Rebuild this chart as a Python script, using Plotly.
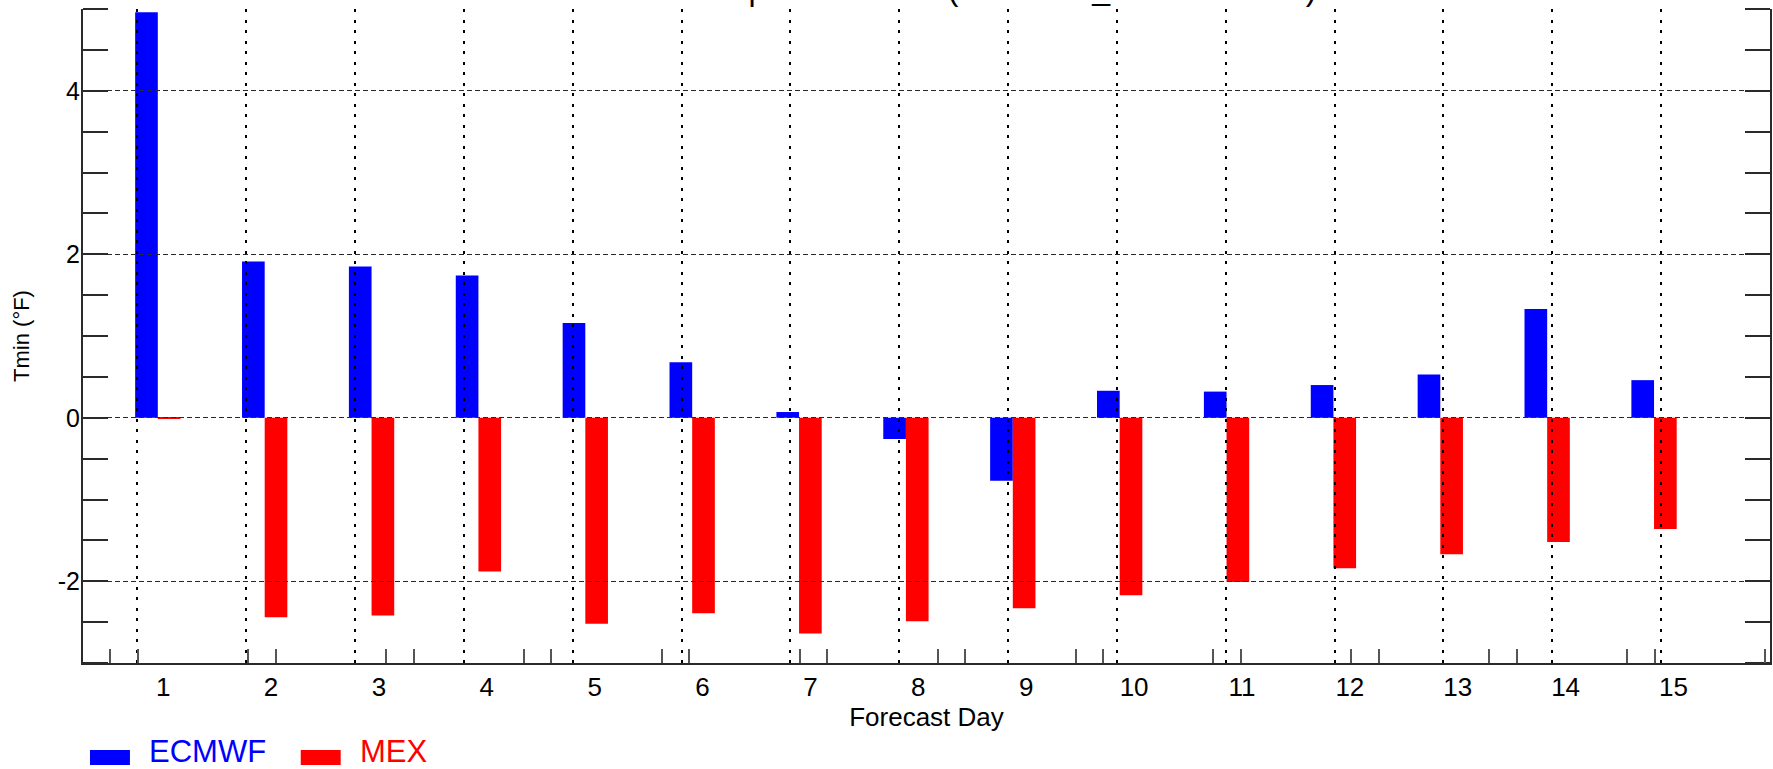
import plotly.graph_objects as go

# ------------------------------------------------------------
# Data (Tmin bias, °F, per forecast day)
# ------------------------------------------------------------
DAYS = list(range(1, 16))
ECMWF = [4.96, 1.91, 1.85, 1.74, 1.16, 0.68, 0.07, -0.26, -0.77, 0.33, 0.32, 0.40, 0.53, 1.33, 0.46]
MEX = [-0.01, -2.44, -2.42, -1.88, -2.52, -2.39, -2.64, -2.49, -2.33, -2.17, -2.01, -1.84, -1.67, -1.52, -1.36]
Y_TICKS = [-2, 0, 2, 4]

TITLE = "Minimum Temperature Bias (STATION_FORECASTS)"
FONT = "Arial, Liberation Sans, sans-serif"

# plot area in pixels
W, H = 1773, 769
L, R, T, B = 83, 1, 9, 106
PW = W - L - R
PH = H - T - B

BAR_W = 0.212
INK = "#2a2a2a"

fig = go.Figure()

# bars on the bottom subplot
fig.add_trace(go.Bar(x=DAYS, y=ECMWF, name="ECMWF", marker_color="#0000FF",
                     marker_line_width=0, width=BAR_W, offset=-BAR_W,
                     xaxis="x", yaxis="y", showlegend=False))
fig.add_trace(go.Bar(x=DAYS, y=MEX, name="MEX", marker_color="#FF0000",
                     marker_line_width=0, width=BAR_W, offset=0,
                     xaxis="x", yaxis="y", showlegend=False))

# empty traces so the grid / tick axes get drawn on top of the bars
for xa in ["x2", "x3", "x4"]:
    fig.add_trace(go.Scatter(x=[], y=[], xaxis=xa, yaxis="y2",
                             showlegend=False, hoverinfo="skip"))

# bottom tick marks (two interleaved series)
tick_px = 138.1
x3_max = PW / tick_px

fig.update_layout(
    width=W, height=H, autosize=False,
    margin=dict(l=L, r=R, t=T, b=B),
    paper_bgcolor="white", plot_bgcolor="rgba(0,0,0,0)",
    barmode="overlay",
    font=dict(family=FONT, color="black"),
    xaxis=dict(domain=[0, 1], range=[0.3, 16.085], anchor="y", visible=False),
    yaxis=dict(domain=[0, 1], range=[-3, 5], anchor="x", visible=False),
    xaxis2=dict(domain=[0, 1], range=[0.5, 16], anchor="y2",
                tick0=1, dtick=1, ticks="", showticklabels=False,
                showgrid=True, gridcolor="black", gridwidth=1.5, griddash="3px,7.5px",
                zeroline=False, showline=False),
    yaxis2=dict(domain=[0, 1], range=[-3, 5], anchor="x2",
                tickvals=Y_TICKS, ticktext=[str(v) for v in Y_TICKS], ticks="",
                tickfont=dict(size=25), ticklabelstandoff=-4,
                showgrid=True, gridcolor=INK, gridwidth=1, griddash="5px,3px",
                zeroline=False, showline=True, linecolor=INK, linewidth=2, mirror="ticks",
                minor=dict(tick0=0, dtick=0.5, ticks="inside", ticklen=25,
                           tickwidth=1.5, tickcolor=INK, showgrid=False),
                title=dict(text="Tmin (°F)", font=dict(size=22), standoff=22)),
    xaxis3=dict(overlaying="x2", anchor="y2", side="bottom", range=[0, x3_max],
                tick0=(110 - L) / tick_px, dtick=1, ticks="inside", ticklen=14,
                tickwidth=1.5, tickcolor="#555", showticklabels=False,
                showgrid=False, zeroline=False,
                showline=True, linecolor=INK, linewidth=2,
                minor=dict(tick0=(137.7 - L) / tick_px, dtick=1, ticks="inside",
                           ticklen=14, tickwidth=1.5, tickcolor="#555", showgrid=False)),
    xaxis4=dict(overlaying="x2", anchor="y2", side="bottom", range=[0.2565, 15.895],
                tickvals=DAYS, ticks="", tickfont=dict(size=26), ticklabelstandoff=6,
                showgrid=False, zeroline=False, showline=False,
                title=dict(text="Forecast Day", font=dict(size=26), standoff=2)),
)

# title: sits mostly above the page, only its descenders show
fig.add_annotation(text=TITLE, xref="paper", yref="paper", x=0.504, y=1,
                   xanchor="center", yanchor="bottom", yshift=0, showarrow=False,
                   font=dict(size=32, family=FONT, color="black"))

# legend drawn as swatches + labels below the axis
def px_x(p):
    return (p - L) / PW

def px_y(p):
    return (H - B - p) / PH

for (x0, x1, tx, name, col) in [(90, 130, 147, "ECMWF", "#0000FF"),
                                (301, 341, 358, "MEX", "#FF0000")]:
    fig.add_shape(type="rect", xref="paper", yref="paper",
                  x0=px_x(x0), x1=px_x(x1), y0=px_y(765), y1=px_y(750),
                  fillcolor=col, line_width=0)
    fig.add_annotation(text=name, xref="paper", yref="paper", x=px_x(tx), y=px_y(751),
                       xanchor="left", yanchor="middle", showarrow=False,
                       font=dict(size=31, family=FONT, color=col))

# figure fills the page exactly (no default body margin), no modebar
fig.write_html("out.html", config={"displayModeBar": False},
               post_script="document.body.style.margin='0px';")
